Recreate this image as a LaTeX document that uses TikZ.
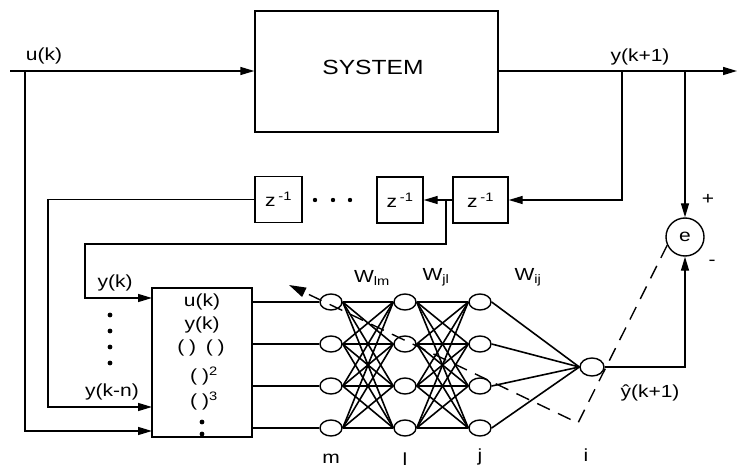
\documentclass[tikz,border=0pt]{standalone}
\usepackage{fontspec}
\setmainfont[FakeStretch=1.2]{Liberation Sans}
\usetikzlibrary{arrows.meta,shapes.geometric}
\begin{document}
\begin{tikzpicture}[x=1pt,y=-1pt,line width=1.4pt,
  arr/.style={-{Triangle[length=14pt,width=8pt]}},
  lbl/.style={font=\fontsize{17.5}{17.5}\selectfont,inner sep=0pt},
  zbox/.style={draw,minimum height=46pt,inner sep=0pt,font=\fontsize{17.5}{17.5}\selectfont},
  neuron/.style={draw,ellipse,minimum width=22pt,minimum height=16pt,inner sep=0pt},
  wire/.style={line width=1.6pt},
  dashline/.style={dash pattern=on 14pt off 9pt}]
\useasboundingbox (0,0) rectangle (737,468);

% system
\node[draw,minimum width=243pt,minimum height=121pt,inner sep=0pt] (sys) at (376.5,71.5) {};
\node[font=\fontsize{20.5}{20.5}\selectfont,inner sep=0pt] (systxt) at (373,67) {SYSTEM};

% input u(k)
\coordinate (uin) at (10,71);
\coordinate (uj) at (25,71);
\node[lbl] (ulab) at (44,56) {u(k)};
\draw[arr] (uin) -- (uin -| sys.west);

% output y(k+1)
\coordinate (yout) at (737,71);
\coordinate (b1) at (622,71);
\coordinate (b2) at (685,71);
\node[lbl] (ylab) at (640,57) {y(k+1)};
\draw[arr] (sys.east |- yout) -- (yout);

% delay line
\node[zbox,minimum width=47pt] (zA) at (278.5,199.5) {z\,\textsuperscript{-1}};
\node[zbox,minimum width=46pt] (zB) at (400,200) {z\,\textsuperscript{-1}};
\node[zbox,minimum width=55pt] (zC) at (480.5,200) {z\,\textsuperscript{-1}};
\fill (315,200) circle (2.2pt) (333,200) circle (2.2pt) (350,200) circle (2.2pt);
\draw[arr] (b1) |- (zC.east);
\draw[arr] (zC.west) -- (zB.east);

% error node
\node[draw,circle,minimum size=38pt,inner sep=0pt,font=\fontsize{17.5}{17.5}\selectfont] (e) at (685,237) {e};
\draw[arr] (b2) -- (e.north);
\node[lbl] (plus) at (708,199) {+};
\node[lbl] (minus) at (712,263) {-};

% preprocessing block
\node[draw,minimum width=100pt,minimum height=149pt,inner sep=0pt] (blk) at (202,362.5) {};
\coordinate (in1) at (152,298);
\coordinate (in2) at (152,407);
\coordinate (in3) at (152,431);
\node[lbl] (t1) at (202,302) {u(k)};
\node[lbl] (t2) at (202,325) {y(k)};
\node[lbl] (t3) at (201,348) {(\;)\;\;(\;)};
\node[lbl] (t4) at (204,376) {(\;)\textsuperscript{2}};
\node[lbl] (t5) at (204,401) {(\;)\textsuperscript{3}};
\fill (202,422) circle (2.4pt) (202,434) circle (2.4pt);

\coordinate (zj) at (446,200);
\draw[arr] (zj) |- (85,244) |- (in1);
\draw[arr] (zA.west) -| (48,407) -- (in2);
\draw[arr] (uj) |- (in3);
\node[lbl] (yk) at (115,283) {y(k)};
\node[lbl] (ykn) at (112,392) {y(k-n)};
\fill (110,315) circle (2.4pt) (110,331) circle (2.4pt) (110,347) circle (2.4pt) (110,363) circle (2.4pt);

% network
\foreach \r/\y in {1/302,2/344,3/386,4/428}{
  \node[neuron] (m\r) at (331,\y) {};
  \node[neuron] (l\r) at (405,\y) {};
  \node[neuron] (j\r) at (480,\y) {};
  \draw (blk.east |- m\r) -- (m\r);
}
\node[neuron,minimum width=24pt,minimum height=18pt] (i) at (592,367) {};
\foreach \a in {1,...,4}{
  \foreach \b in {1,...,4}{
    \draw[wire] (m\a.east) -- (l\b.west);
    \draw[wire] (l\a.east) -- (j\b.west);
  }
  \draw[wire] (j\a.east) -- (i.west);
}
\draw[arr] (i.east) -| (e.south);

% error back-propagation path
\coordinate (dc) at (578,423);
\coordinate (dt) at (289,285);
\draw[dashline,-{Triangle[length=17pt,width=10pt]}] (e.205) -- (dc) -- (dt);

% labels
\node[lbl] (wlm) at (372,278) {W\textsubscript{lm}};
\node[lbl] (wjl) at (436,277) {W\textsubscript{jl}};
\node[lbl] (wij) at (528,277) {W\textsubscript{ij}};
\node[lbl] (yhat) at (650,393) {\^{y}(k+1)};
\node[lbl] (lm) at (331,459) {m};
\node[lbl] (ll) at (405,459) {l};
\node[lbl] (lj) at (480,457) {j};
\node[lbl] (li) at (586,455) {i};
\end{tikzpicture}
\end{document}
